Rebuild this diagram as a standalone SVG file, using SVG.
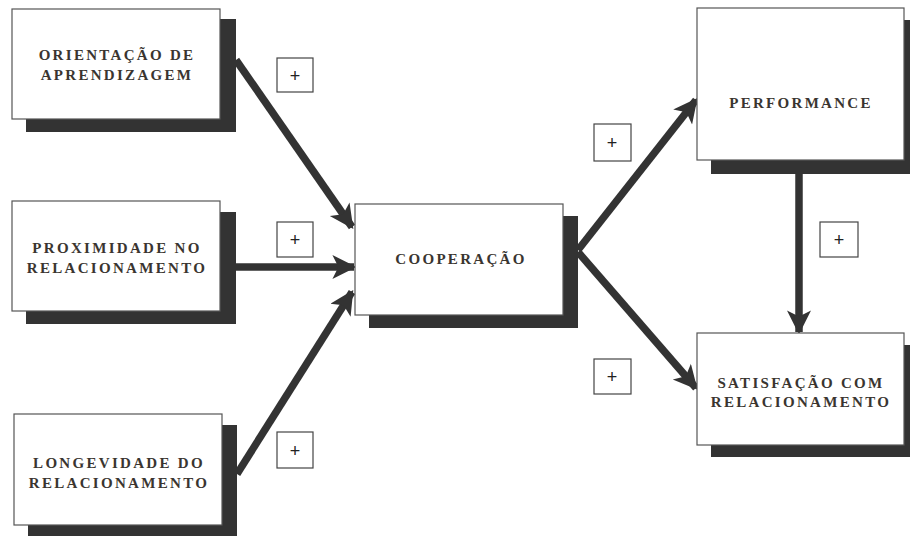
<svg xmlns="http://www.w3.org/2000/svg" width="910" height="536" viewBox="0 0 910 536">
<defs>
<style>
.shadow{fill:#333333}
.box{fill:#ffffff;stroke:#555555;stroke-width:1.2}
.lbl{font-family:"Liberation Serif","Times New Roman",serif;font-weight:bold;font-size:15px;letter-spacing:2.3px;fill:#3a3530;text-anchor:middle}
.edge{stroke:#333333;stroke-width:7.5;fill:none}
.plus{fill:#ffffff;stroke:#444444;stroke-width:1.2}
.ptxt{font-family:"Liberation Sans",Arial,sans-serif;font-size:18px;fill:#222;text-anchor:middle}
</style>
<marker id="ah" viewBox="0 0 10 10" refX="9" refY="5" markerWidth="3.6" markerHeight="3.2" markerUnits="strokeWidth" orient="auto">
<path d="M0,0 L10,5 L0,10 L2.5,5 Z" fill="#333333"/>
</marker>
</defs>
<rect width="910" height="536" fill="#ffffff"/>
<g id="connectors">
<line class="edge" x1="236" y1="60" x2="352" y2="227" marker-end="url(#ah)"/>
<line class="edge" x1="236" y1="267" x2="354" y2="267" marker-end="url(#ah)"/>
<line class="edge" x1="237" y1="474" x2="352" y2="292" marker-end="url(#ah)"/>
<line class="edge" x1="578" y1="250" x2="696" y2="100" marker-end="url(#ah)"/>
<line class="edge" x1="578" y1="252" x2="696" y2="388" marker-end="url(#ah)"/>
<line class="edge" x1="799" y1="174" x2="799" y2="332" marker-end="url(#ah)"/>
</g>
<g id="plus1"><rect class="plus" x="277" y="58" width="36" height="34"/><text class="ptxt" x="295" y="82">+</text></g>
<g id="plus2"><rect class="plus" x="277" y="222" width="36" height="35"/><text class="ptxt" x="295" y="246">+</text></g>
<g id="plus3"><rect class="plus" x="277" y="432" width="36" height="36"/><text class="ptxt" x="295" y="457">+</text></g>
<g id="plus4"><rect class="plus" x="594" y="124" width="37" height="37"/><text class="ptxt" x="612" y="149">+</text></g>
<g id="plus5"><rect class="plus" x="594" y="359" width="37" height="35"/><text class="ptxt" x="612" y="383">+</text></g>
<g id="plus6"><rect class="plus" x="820" y="222" width="38" height="35"/><text class="ptxt" x="839" y="246">+</text></g>
<g id="n-orientacao">
<rect class="shadow" x="26" y="19" width="210" height="113"/>
<rect class="box" x="12" y="9" width="208" height="110"/>
<text class="lbl" x="117" y="60">ORIENTAÇÃO DE</text>
<text class="lbl" x="117" y="80">APRENDIZAGEM</text>
</g>
<g id="n-proximidade">
<rect class="shadow" x="26" y="212" width="210" height="112"/>
<rect class="box" x="12" y="201" width="208" height="110"/>
<text class="lbl" x="117" y="253">PROXIMIDADE NO</text>
<text class="lbl" x="117" y="273">RELACIONAMENTO</text>
</g>
<g id="n-longevidade">
<rect class="shadow" x="28" y="425" width="209" height="120"/>
<rect class="box" x="14" y="414" width="208" height="111"/>
<text class="lbl" x="119" y="468">LONGEVIDADE DO</text>
<text class="lbl" x="119" y="488">RELACIONAMENTO</text>
</g>
<g id="n-cooperacao">
<rect class="shadow" x="369" y="216" width="209" height="112"/>
<rect class="box" x="355" y="204" width="208" height="111"/>
<text class="lbl" x="461" y="264">COOPERAÇÃO</text>
</g>
<g id="n-performance">
<rect class="shadow" x="711" y="20" width="210" height="154"/>
<rect class="box" x="697" y="8" width="207" height="152"/>
<text class="lbl" x="801" y="108">PERFORMANCE</text>
</g>
<g id="n-satisfacao">
<rect class="shadow" x="711" y="345" width="210" height="112"/>
<rect class="box" x="697" y="333" width="207" height="112"/>
<text class="lbl" x="801" y="388">SATISFAÇÃO COM</text>
<text class="lbl" x="801" y="407">RELACIONAMENTO</text>
</g>
</svg>
